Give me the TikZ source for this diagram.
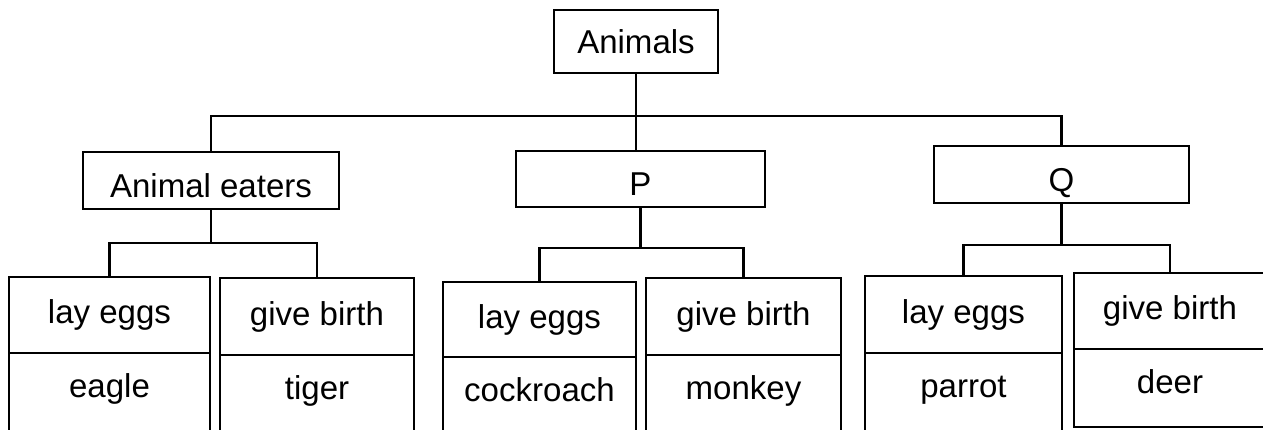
\documentclass[tikz,border=0pt]{standalone}
\usepackage{fontspec}
\setmainfont{Liberation Sans}
\usetikzlibrary{positioning}
\begin{document}
\begin{tikzpicture}[x=0.1mm, y=-0.1mm, line width=0.7pt,
	box/.style={draw, inner sep=0pt, outer sep=0pt, font=\fontsize{9.4}{11}\selectfont},
	cell/.style args={#1/#2}{box, minimum width=#1, minimum height=#2},
	group/.style={text height=9.5pt, text depth=0pt},
	lower/.style={text height=7pt, text depth=7pt}]
	\useasboundingbox (0,0) rectangle (1263,430);
	\clip (0,0) rectangle (1263,430);
	\node[cell={16.4mm/6.3mm}] (animals) at (636,41.5) {Animals};
	\node[cell={25.6mm/5.7mm}, group] (ae) at (211,180.5) {Animal eaters};
	\node[cell={24.9mm/5.6mm}, group] (p) at (640.5,179) {P};
	\node[cell={25.5mm/5.7mm}, group] (q) at (1061.5,174.5) {Q};
	\node[cell={20.1mm/7.6mm}] (aeL) at (109.5,315) {lay eggs};
	\node[cell={19.4mm/7.7mm}] (aeR) at (317,316.5) {give birth};
	\node[cell={19.3mm/7.5mm}] (pL) at (539.5,319.5) {lay eggs};
	\node[cell={19.5mm/7.7mm}] (pR) at (743.5,316.5) {give birth};
	\node[cell={19.7mm/7.7mm}] (qL) at (963.5,314.5) {lay eggs};
	\node[cell={19.2mm/7.6mm}] (qR) at (1170,311) {give birth};
	\node[cell={20.1mm/9mm}, lower, below=0pt of aeL] (aeLb) {eagle};
	\node[cell={19.4mm/9mm}, lower, below=0pt of aeR] (aeRb) {tiger};
	\node[cell={19.3mm/9mm}, lower, below=0pt of pL] (pLb) {cockroach};
	\node[cell={19.5mm/9mm}, lower, below=0pt of pR] (pRb) {monkey};
	\node[cell={19.7mm/9mm}, lower, below=0pt of qL] (qLb) {parrot};
	\node[cell={19.2mm/7.8mm}, lower, text depth=4pt, below=0pt of qR] (qRb) {deer};
	\coordinate (top) at (animals.south |- 0,116);
	\draw (animals.south) -- (animals.south |- p.north);
	\draw (ae.north) |- (top) -| (q.north);
	\foreach \g/\d in {ae/34,p/41,q/42}{
		\draw (\g.south) -- ++(0,\d) coordinate (\g J);
		\draw (\g L.north) |- (\g J) -| (\g R.north);
	}
\end{tikzpicture}
\end{document}
